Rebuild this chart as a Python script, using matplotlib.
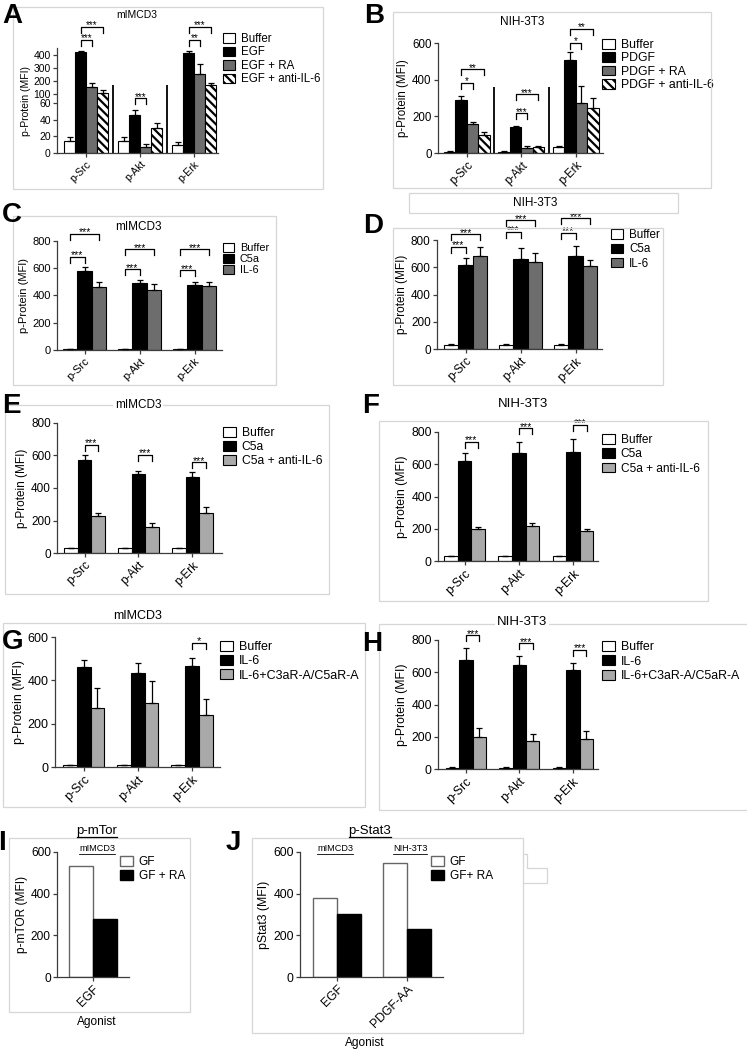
import matplotlib
matplotlib.use("Agg")
import matplotlib.pyplot as plt
import numpy as np
from matplotlib.patches import Rectangle
from matplotlib.lines import Line2D

plt.rcParams["font.family"] = ["Liberation Sans", "DejaVu Sans"]
plt.rcParams["hatch.linewidth"] = 1.6

W, H = 747, 1050

proteins = ["p-Src", "p-Akt", "p-Erk"]

# A - mIMCD3, EGF (broken axis)
a_labels = ["Buffer", "EGF", "EGF + RA", "EGF + anti-IL-6"]
a_mean = [[14, 14, 10], [425, 45, 413], [151, 7, 254], [110, 30, 169]]
a_err = [[5, 5, 3], [5, 6, 17], [35, 4, 75], [20, 6, 13]]
a_sig = [(0, 1, 2, "***"), (0, 1, 3, "***"), (1, 1, 2, "***"), (2, 1, 2, "**"), (2, 1, 3, "***")]

# B - NIH-3T3, PDGF
b_labels = ["Buffer", "PDGF", "PDGF + RA", "PDGF + anti-IL-6"]
b_mean = [[7, 8, 35], [289, 142, 507], [156, 29, 274], [98, 31, 244]]
b_err = [[2, 2, 5], [24, 8, 42], [15, 9, 91], [15, 5, 54]]
b_sig = [(0, 1, 2, "*"), (0, 1, 3, "**"), (1, 1, 2, "***"), (1, 1, 3, "***"), (2, 1, 2, "*"), (2, 1, 3, "**")]

# C - mIMCD3, C5a / IL-6
c_labels = ["Buffer", "C5a", "IL-6"]
c_mean = [[8, 8, 8], [580, 490, 475], [461, 440, 470]]
c_err = [[2, 2, 2], [32, 25, 22], [40, 48, 30]]
c_sig = [(0, 0, 1, "***"), (0, 0, 2, "***"), (1, 0, 1, "***"), (1, 0, 2, "***"), (2, 0, 1, "***"), (2, 0, 2, "***")]

# D - NIH-3T3, C5a / IL-6
d_labels = ["Buffer", "C5a", "IL-6"]
d_mean = [[30, 30, 30], [617, 662, 679], [679, 642, 610]]
d_err = [[5, 5, 5], [50, 78, 78], [69, 62, 44]]
d_sig = c_sig

# E - mIMCD3, C5a +/- anti-IL-6
e_labels = ["Buffer", "C5a", "C5a + anti-IL-6"]
e_mean = [[30, 30, 30], [572, 484, 470], [228, 162, 248]]
e_err = [[3, 3, 3], [31, 20, 27], [16, 20, 33]]
e_sig = [(0, 1, 2, "***"), (1, 1, 2, "***"), (2, 1, 2, "***")]

# F - NIH-3T3, C5a +/- anti-IL-6
f_labels = ["Buffer", "C5a", "C5a + anti-IL-6"]
f_mean = [[30, 30, 30], [621, 667, 677], [196, 219, 186]]
f_err = [[3, 3, 3], [50, 72, 78], [13, 14, 12]]
f_sig = e_sig

# G - mIMCD3, IL-6 +/- C3aR/C5aR antagonists
g_labels = ["Buffer", "IL-6", "IL-6+C3aR-A/C5aR-A"]
g_mean = [[8, 8, 8], [460, 435, 468], [274, 295, 238]]
g_err = [[2, 2, 2], [35, 47, 34], [90, 102, 76]]
g_sig = [(2, 1, 2, "*")]

# H - NIH-3T3, IL-6 +/- C3aR/C5aR antagonists
h_labels = ["Buffer", "IL-6", "IL-6+C3aR-A/C5aR-A"]
h_mean = [[8, 8, 8], [678, 643, 615], [196, 174, 186]]
h_err = [[2, 2, 2], [72, 58, 42], [56, 43, 52]]
h_sig = [(0, 1, 2, "***"), (1, 1, 2, "***"), (2, 1, 2, "***")]

# I - p-mTor
i_agonist = ["EGF"]
i_labels = ["GF", "GF + RA"]
i_gf = [533]
i_gfra = [277]

# J - p-Stat3
j_agonist = ["EGF", "PDGF-AA"]
j_labels = ["GF", "GF+ RA"]
j_gf = [381, 547]
j_gfra = [302, 230]

fig = plt.figure(figsize=(W / 100, H / 100), dpi=100)
AX_C = "#3c3c3c"


def add_ax(x0, y0, x1, y1):
    ax = fig.add_axes([x0 / W, 1 - y1 / H, (x1 - x0) / W, (y1 - y0) / H])
    ax.patch.set_visible(False)
    for s in ("top", "right"):
        ax.spines[s].set_visible(False)
    for s in ("left", "bottom"):
        ax.spines[s].set_color(AX_C)
        ax.spines[s].set_linewidth(0.9)
    ax.tick_params(color=AX_C, length=3, width=0.9, pad=1.5)
    return ax


def ftext(x, y, s, **kw):
    return fig.text(x / W, 1 - y / H, s, **kw)


def box(x0, y0, x1, y1, fc=None, ec="#d6d6d6", z=1):
    fig.add_artist(Rectangle((x0 / W, 1 - y1 / H), (x1 - x0) / W, (y1 - y0) / H,
                             transform=fig.transFigure, fill=fc is not None,
                             facecolor=fc, edgecolor=ec, lw=0.9, zorder=z))


def fline(xs, ys, color="#d6d6d6", lw=0.9):
    fig.add_artist(Line2D([x / W for x in xs], [1 - y / H for y in ys],
                          transform=fig.transFigure, color=color, lw=lw))


def grouped(rect, xlim, ylim, yticks, means, errs, colors, width, fs,
            hatches=None, scale=None):
    ax = add_ax(*rect)
    if scale is not None:
        ax.set_yscale("function", functions=scale)
    x = np.arange(len(proteins))
    n = len(means)
    handles = []
    for i in range(n):
        pos = x + (i - (n - 1) / 2) * width
        b = ax.bar(pos, means[i], width, color=colors[i],
                   hatch=None if hatches is None else hatches[i],
                   edgecolor="black", linewidth=0.8, zorder=2)
        ax.errorbar(pos, means[i], yerr=[np.zeros(len(x)), errs[i]], fmt="none",
                    ecolor="black", elinewidth=0.9, capsize=2.5, capthick=0.9, zorder=3)
        handles.append(b)
    ax.set_xlim(*xlim)
    ax.set_ylim(*ylim)
    ax.set_yticks(yticks)
    ax.minorticks_off()
    ax.set_xticks(x)
    ax.set_xticklabels(proteins, rotation=45, ha="right", rotation_mode="anchor", fontsize=fs)
    ax.tick_params(axis="y", labelsize=fs)
    ax.set_ylabel("p-Protein (MFI)", fontsize=fs, labelpad=2)
    return ax, handles


def brackets(ax, sig, heights, n, width, fs=7.5, leg=6):
    inv = ax.transData.inverted()
    for (g, i, j, lab), y in zip(sig, heights):
        x1 = g + (i - (n - 1) / 2) * width
        x2 = g + (j - (n - 1) / 2) * width
        d = ax.transData.transform([(x1, y), (x2, y)])
        lo = inv.transform([(d[0][0], d[0][1] - leg), (d[1][0], d[1][1] - leg)])
        ax.plot([x1, x1, x2, x2], [lo[0][1], y, y, lo[1][1]], color="black",
                lw=0.9, clip_on=False, zorder=4)
        ax.annotate(lab, ((x1 + x2) / 2, y), xytext=(0, -2.5), textcoords="offset points",
                    ha="center", va="bottom", fontsize=fs, annotation_clip=False)


def legend(ax, handles, labels, x, y, fs, spacing):
    ax.legend(handles, labels, loc="upper left", bbox_to_anchor=(x / W, 1 - y / H),
              bbox_transform=fig.transFigure, frameon=False, fontsize=fs,
              handlelength=1.05, handleheight=0.85, handletextpad=0.5,
              labelspacing=spacing, borderpad=0, borderaxespad=0)


def underlined(x, y, s, fs, lw=0.9):
    t = ftext(x, y, s, fontsize=fs, ha="center", va="baseline")
    bb = t.get_window_extent(renderer=fig.canvas.get_renderer())
    fline([bb.x0, bb.x1], [y + 2.5, y + 2.5], color="black", lw=lw)


# panel frames (light grey boxes from the original figure assembly)
box(13, 7, 323, 189)
box(393, 12, 711, 188)
box(13, 216, 276, 385)
box(393, 228, 663, 385)
box(5, 405, 329, 594)
box(379, 421, 708, 601)
box(3, 623, 365, 807)
box(379, 624, 749, 810)
box(9, 838, 190, 1012)
box(252, 838, 523, 1033)
fline([523, 527, 527, 547, 547, 523], [854, 854, 868, 868, 883, 883])

# ---- A
brk_v = [0, 60, 100, 800]
brk_t = [0, 50, 59, 150]
a_scale = (lambda v: np.interp(v, brk_v, brk_t), lambda t: np.interp(t, brk_t, brk_v))
grey4 = ["white", "black", "#6d6d6d", "white"]
hatch4 = [None, None, None, "\\\\\\\\"]
ax, hs = grouped((57, 48.5, 218, 153), (-0.54, 2.44), (0, 450), [0, 20, 40, 60, 100, 200, 300, 400],
                 a_mean, a_err, grey4, 0.205, 7.5, hatches=hatch4, scale=a_scale)
ax.vlines([0.5, 1.5], 0, 169, color="black", lw=1.3)
brackets(ax, a_sig, [515, 618, 81, 515, 618], 4, 0.205, fs=7)
legend(ax, hs, a_labels, 223, 33, 8.3, 0.13)
ftext(137, 15, "mIMCD3", fontsize=7.5, ha="center", va="center")

# ---- B
ax, hs = grouped((438, 43, 603, 153), (-0.53, 2.5), (0, 600), [0, 200, 400, 600],
                 b_mean, b_err, grey4, 0.21, 8.3, hatches=hatch4)
ax.vlines([0.5, 1.5], 0, 360, color="black", lw=1.3)
brackets(ax, b_sig, [384, 456, 216, 320, 602, 676], 4, 0.21, fs=7)
legend(ax, hs, b_labels, 602, 39, 8.8, 0.1)
ftext(522, 22, "NIH-3T3", fontsize=8.5, ha="center", va="center")

# ---- C
grey3 = ["white", "black", "#6d6d6d"]
ax, hs = grouped((57, 241, 222, 350), (-0.5, 2.5), (0, 800), [0, 200, 400, 600, 800],
                 c_mean, c_err, grey3, 0.26, 8)
brackets(ax, c_sig, [685, 851, 593, 739, 585, 739], 3, 0.26)
legend(ax, hs, c_labels, 223, 243, 7.8, 0.1)
ftext(138, 227, "mIMCD3", fontsize=8.5, ha="center", va="center")

# ---- D
ax, hs = grouped((437, 240, 602, 349), (-0.52, 2.48), (0, 800), [0, 200, 400, 600, 800],
                 d_mean, d_err, grey3, 0.26, 8.5)
brackets(ax, d_sig, [748, 843, 860, 945, 855, 958], 3, 0.26)
legend(ax, hs, d_labels, 611, 229, 8.4, 0.2)
box(409, 193, 678, 213, fc="white", z=5)
t = ftext(535, 203, "NIH-3T3", fontsize=8.5, ha="center", va="center")
t.set_zorder(6)

# ---- E
light3 = ["white", "black", "#a9a9a9"]
ax, hs = grouped((57, 423, 222, 553), (-0.51, 2.55), (0, 800), [0, 200, 400, 600, 800],
                 e_mean, e_err, light3, 0.25, 8.5)
brackets(ax, e_sig, [665, 603, 558], 3, 0.25)
legend(ax, hs, e_labels, 223, 427, 8.7, 0.18)
ftext(138, 405, "mIMCD3", fontsize=8.5, ha="center", va="center",
      bbox=dict(fc="white", ec="none", pad=1.5))

# ---- F
ax, hs = grouped((438, 432, 598, 561), (-0.49, 2.46), (0, 800), [0, 200, 400, 600, 800],
                 f_mean, f_err, light3, 0.25, 8.8)
brackets(ax, f_sig, [739, 822, 846], 3, 0.25)
legend(ax, hs, f_labels, 602, 434, 8.6, 0.2)
ftext(523, 404, "NIH-3T3", fontsize=9.5, ha="center", va="center")

# ---- G
ax, hs = grouped((55, 637, 220, 767), (-0.53, 2.52), (0, 600), [0, 200, 400, 600],
                 g_mean, g_err, light3, 0.255, 9)
brackets(ax, g_sig, [572], 3, 0.255, fs=8)
legend(ax, hs, g_labels, 220, 641, 9, 0.15)
ftext(138, 616, "mIMCD3", fontsize=9, ha="center", va="center")

# ---- H
ax, hs = grouped((438, 640, 598, 769), (-0.52, 2.47), (0, 800), [0, 200, 400, 600, 800],
                 h_mean, h_err, light3, 0.25, 8.8)
brackets(ax, h_sig, [830, 779, 738], 3, 0.25)
legend(ax, hs, h_labels, 602, 641, 8.9, 0.18)
ftext(522, 622, "NIH-3T3", fontsize=9.5, ha="center", va="center",
      bbox=dict(fc="white", ec="none", pad=1.5))


# ---- I and J
def pair_panel(rect, xlim, width, agonists, gf, gfra, ylabel, fs):
    ax = add_ax(*rect)
    x = np.arange(len(agonists))
    b1 = ax.bar(x - width / 2, gf, width, color="white", edgecolor="#666666", lw=1, zorder=2)
    b2 = ax.bar(x + width / 2, gfra, width, color="black", edgecolor="black", lw=1, zorder=2)
    ax.set_xlim(*xlim)
    ax.set_ylim(0, 600)
    ax.set_yticks([0, 200, 400, 600])
    ax.set_xticks(x)
    ax.set_xticklabels(agonists, rotation=45, ha="right", rotation_mode="anchor", fontsize=fs)
    ax.tick_params(axis="y", labelsize=fs)
    ax.set_ylabel(ylabel, fontsize=fs, labelpad=2)
    return ax, [b1, b2]


ax, hs = pair_panel((57, 852, 129, 977), (-0.6, 0.6), 0.4, i_agonist, i_gf, i_gfra,
                    "p-mTOR (MFI)", 8.6)
legend(ax, hs, i_labels, 120, 856, 8.6, 0.2)
ftext(97, 1022, "Agonist", fontsize=8.6, ha="center", va="center")

ax, hs = pair_panel((300, 852, 443, 977), (-0.53, 1.51), 0.343, j_agonist, j_gf, j_gfra,
                    "pStat3 (MFI)", 8.8)
legend(ax, hs, j_labels, 431, 856, 8.6, 0.2)
ftext(365, 1043, "Agonist", fontsize=8.6, ha="center", va="center")

underlined(97, 834, "p-mTor", 9.5)
underlined(370, 834, "p-Stat3", 9.5)
underlined(97, 851, "mIMCD3", 6.6, lw=0.6)
underlined(335, 851, "mIMCD3", 6.6, lw=0.6)
underlined(410, 851, "NIH-3T3", 6.6, lw=0.6)

# panel letters
for lab, x, y in [("A", 2, 23), ("B", 364, 23), ("C", 2, 222), ("D", 363, 233),
                  ("E", 2, 413), ("F", 362, 413), ("G", 2, 649), ("H", 362, 651),
                  ("I", -2, 850), ("J", 226, 850)]:
    ftext(x, y, lab, fontsize=20, fontweight="bold", va="baseline")

fig.savefig("out.png", dpi=100)
